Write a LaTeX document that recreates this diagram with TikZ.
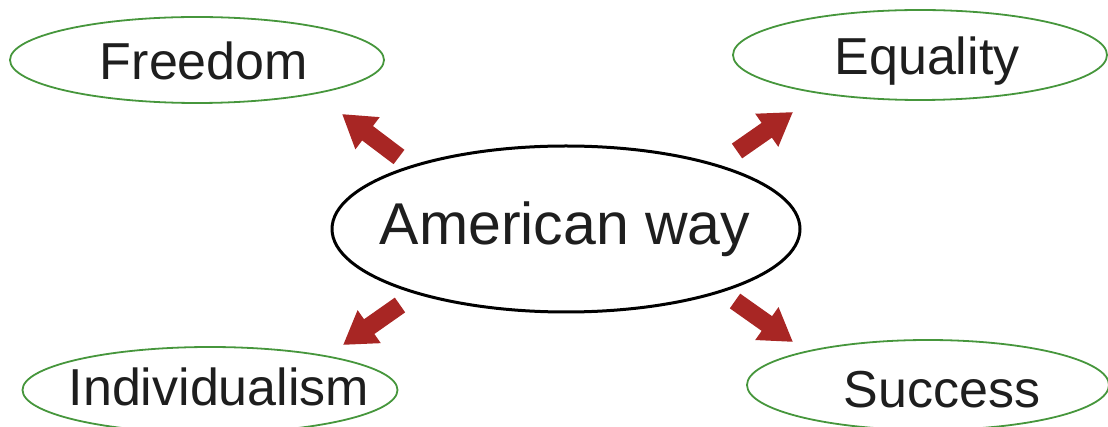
\documentclass[tikz,border=0pt]{standalone}
\usepackage{fontspec}
\setmainfont{Liberation Sans}
\usetikzlibrary{shapes.geometric,arrows.meta}
\definecolor{arrowred}{RGB}{168,38,36}
\definecolor{ovalgreen}{RGB}{70,150,60}
\definecolor{txt}{RGB}{30,30,30}
\begin{document}
\begin{tikzpicture}[x=1pt,y=-1pt,
  valuebox/.style={ellipse, draw=ovalgreen, line width=1.8pt, inner sep=0pt},
  centerbox/.style={ellipse, draw=black, line width=3pt, inner sep=0pt},
  valuetext/.style={anchor=base, inner sep=0pt, text=txt, font=\fontsize{52pt}{60pt}\selectfont},
  centertext/.style={anchor=base, inner sep=0pt, text=txt, font=\fontsize{59pt}{68pt}\selectfont},
  blockarrow/.style={draw=arrowred, line width=18pt,
    -{Triangle[length=32pt,width=38pt]}, arrowred}]
\useasboundingbox (0,0) rectangle (1108,427);
\node[centerbox, minimum width=468pt, minimum height=166pt] (aw) at (566,229) {};
\node[valuebox, minimum width=374pt, minimum height=86pt] (fr) at (197,60) {};
\node[valuebox, minimum width=374pt, minimum height=90pt] (eq) at (920,55) {};
\node[valuebox, minimum width=375pt, minimum height=86pt] (in) at (210,390) {};
\node[valuebox, minimum width=362pt, minimum height=90pt] (su) at (928,385) {};
\node[centertext] (awt) at (565,245) {American way};
\node[valuetext] (frt) at (204,80) {Freedom};
\node[valuetext] (eqt) at (927,75) {Equality};
\node[valuetext] (int) at (219,405) {Individualism};
\node[valuetext] (sut) at (942,407) {Success};
\coordinate (a1s) at (399,157); \coordinate (a1e) at (342,114);
\coordinate (a2s) at (737,151); \coordinate (a2e) at (793,112);
\coordinate (a3s) at (400,305); \coordinate (a3e) at (343,345);
\coordinate (a4s) at (735,301); \coordinate (a4e) at (793,342);
\draw[blockarrow] (a1s) -- (a1e);
\draw[blockarrow] (a2s) -- (a2e);
\draw[blockarrow] (a3s) -- (a3e);
\draw[blockarrow] (a4s) -- (a4e);
\end{tikzpicture}
\end{document}
